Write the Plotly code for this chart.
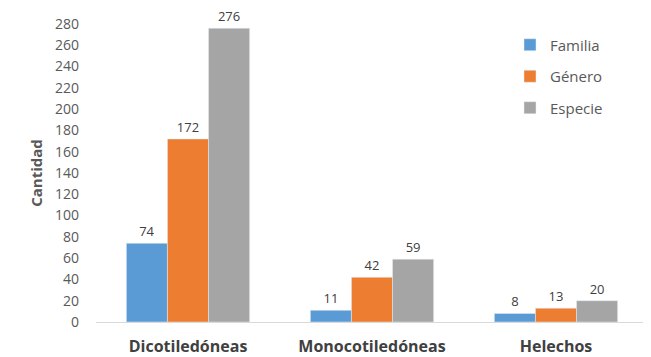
import plotly.graph_objects as go

categories = ["Dicotiledóneas", "Monocotiledóneas", "Helechos"]
familia = [74, 11, 8]
genero = [172, 42, 13]
especie = [276, 59, 20]
series_names = ["Familia", "Género", "Especie"]
colors = ["#5B9BD5", "#ED7D31", "#A5A5A5"]
tick_vals = list(range(0, 281, 20))

fig = go.Figure()
for name, vals, c in zip(series_names, [familia, genero, especie], colors):
    fig.add_trace(go.Bar(
        x=categories, y=vals, name=name, marker_color=c, legendgroup=name,
        text=[str(v) for v in vals], textposition="outside",
        textfont=dict(size=13, color="#404040", family="Open Sans"),
        cliponaxis=False,
    ))

fig.update_layout(
    width=643, height=349,
    barmode="group", bargap=0.33, bargroupgap=0,
    plot_bgcolor="white", paper_bgcolor="white",
    margin=dict(l=88, r=3, t=16, b=35),
    font=dict(family="Open Sans", color="#595959", size=14),
    legend=dict(x=0.75, y=0.985, xanchor="left", yanchor="top",
                font=dict(size=15, color="#595959"), itemwidth=30,
                traceorder="grouped", tracegroupgap=9,
                bgcolor="rgba(0,0,0,0)"),
    xaxis=dict(showline=True, linecolor="#D9D9D9", linewidth=1,
               tickfont=dict(size=16, color="#404040", family="Open Sans"),
               tickprefix="<b>", ticksuffix="</b>", automargin=False,
               ticklabelstandoff=10,
               ticks="", showgrid=False),
    yaxis=dict(range=[0, 280], tickvals=tick_vals, showgrid=False,
               zeroline=False, showline=False, ticks="",
               ticklabelstandoff=16, automargin=False,
               tickfont=dict(size=14, color="#595959"),
               title=dict(text="<b>Cantidad</b>", font=dict(size=15, color="#595959"), standoff=8)),
)
fig.write_html("out.html")
